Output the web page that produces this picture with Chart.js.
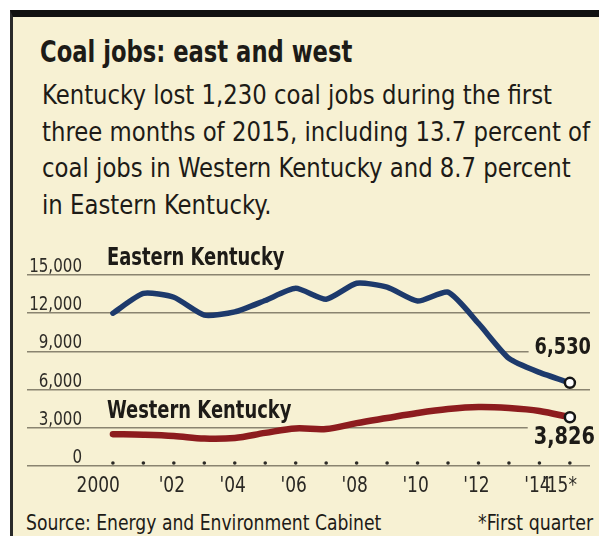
<!DOCTYPE html>
<html>
<head>
<meta charset="utf-8">
<script src="https://cdn.jsdelivr.net/npm/chart.js@4.4.1/dist/chart.umd.min.js"></script>
<style>
  html, body { margin: 0; padding: 0; background: #fff; width: 599px; height: 536px; overflow: hidden; }
  #frame { position: absolute; left: 10px; top: 10px; width: 589px; height: 526px; box-sizing: border-box;
           background: #f7f1d3; border-top: 7px solid #111; border-left: 3px solid #2a2a2a; }
  .txt { position: absolute; white-space: nowrap; color: #1d1b17; transform-origin: 0 0;
         font-family: "DejaVu Sans Condensed", "Liberation Sans", sans-serif; }
  #title { left: 40px; top: 35px; font-size: 30px; line-height: 34px; font-weight: bold; transform: scaleX(0.84); }
  #sub { left: 42px; top: 77px; font-size: 26px; line-height: 36.5px; transform: scaleX(0.975); }
  #source { left: 26px; top: 511px; font-size: 21px; line-height: 24px; transform: scaleX(0.91); }
  #note { right: 6px; top: 511px; font-size: 21px; line-height: 24px; transform-origin: 100% 0; transform: scaleX(0.92); }
  #chart { position: absolute; left: 0; top: 0; }
</style>
</head>
<body>
<div id="frame"></div>
<div class="txt" id="title">Coal jobs: east and west</div>
<div class="txt" id="sub">Kentucky lost 1,230 coal jobs during the first<br>three months of 2015, including 13.7 percent of<br>coal jobs in Western Kentucky and 8.7 percent<br>in Eastern Kentucky.</div>
<div class="txt" id="source">Source: Energy and Environment Cabinet</div>
<div class="txt" id="note">*First quarter</div>
<canvas id="chart" width="599" height="536"></canvas>
<script>
const years = [2000, 2001, 2002, 2003, 2004, 2005, 2006, 2007, 2008, 2009, 2010, 2011, 2012, 2013, 2014, 2015];
const xTickLabels = ['2000', '', "'02", '', "'04", '', "'06", '', "'08", '', "'10", '', "'12", '', "'14", "'15*"];
const eastern = [12000, 13550, 13250, 11850, 12100, 13000, 13950, 13100, 14350, 14050, 12950, 13650, 11200, 8450, 7350, 6530];
const western = [2500, 2450, 2350, 2150, 2200, 2600, 2950, 2900, 3370, 3770, 4160, 4470, 4630, 4550, 4320, 3826];
const yTicks = [0, 3000, 6000, 9000, 12000, 15000];

const FONT = '"DejaVu Sans Condensed", "Liberation Sans", sans-serif';
const INK = '#1d1b17';
const PAPER = '#f7f1d3';

// series name above the line, value next to the end marker
const labelSpots = [
    { nameAt: 15000, nameDy: -10, valDx: 21, valDy: -35, valSize: 23 },
    { nameAt: 3000, nameDy: -10, valDx: 25, valDy: 20, valSize: 25 }
];

// the paper uses a condensed face: squeeze the canvas text horizontally
function narrowText(ctx, txt, x, y, sx, align, baseline) {
    ctx.save();
    ctx.translate(x, y);
    ctx.scale(sx, 1);
    ctx.textAlign = align;
    ctx.textBaseline = baseline;
    ctx.fillText(txt, 0, 0);
    ctx.restore();
}

const annotate = {
    id: 'annotate',
    beforeDatasetsDraw(chart) {
        const { ctx, chartArea, scales: { x, y } } = chart;
        ctx.save();
        // year dots on the base line
        ctx.fillStyle = '#2b2a26';
        years.forEach(yr => {
            ctx.beginPath();
            ctx.arc(x.getPixelForValue(yr), y.getPixelForValue(0) - 3, 1.8, 0, Math.PI * 2);
            ctx.fill();
        });
        // y labels sit on top of their grid lines
        ctx.fillStyle = '#2e2c27';
        ctx.font = '20px ' + FONT;
        y.ticks.forEach(t => {
            narrowText(ctx, t.value.toLocaleString('en-US'), chartArea.left + 55, y.getPixelForValue(t.value) - 3, 0.84, 'right', 'alphabetic');
        });
        // x labels; the full year hangs left of its dot, the footnote star hangs right
        ctx.font = '22px ' + FONT;
        ctx.fillStyle = '#2a2824';
        const sx = 0.86;
        x.ticks.forEach(t => {
            const lbl = xTickLabels[years.indexOf(t.value)];
            if (!lbl) return;
            const px = x.getPixelForValue(t.value);
            const yb = chartArea.bottom + 26;
            if (lbl.length === 4) {
                narrowText(ctx, lbl, px + 7, yb, sx, 'right', 'alphabetic');
            } else {
                const core = lbl.replace('*', '');
                const w = ctx.measureText(core).width * sx;
                narrowText(ctx, lbl, px - w / 2 - 2, yb, sx, 'left', 'alphabetic');
            }
        });
        ctx.restore();
    },
    afterDatasetsDraw(chart) {
        const { ctx, scales: { x, y } } = chart;
        ctx.save();
        chart.data.datasets.forEach((ds, i) => {
            const spot = labelSpots[i];
            ctx.fillStyle = INK;
            ctx.font = 'bold 24px ' + FONT;
            narrowText(ctx, ds.label, x.getPixelForValue(years[0]) - 6, y.getPixelForValue(spot.nameAt) + spot.nameDy, 0.83, 'left', 'alphabetic');

            const series = i === 0 ? eastern : western;
            const last = series.length - 1;
            const pt = chart.getDatasetMeta(i).data[last];
            const txt = series[last].toLocaleString('en-US');
            ctx.font = 'bold ' + spot.valSize + 'px ' + FONT;
            const w = ctx.measureText(txt).width * 0.86;
            const rx = pt.x + spot.valDx;
            const cy = pt.y + spot.valDy;
            ctx.fillStyle = PAPER;
            ctx.fillRect(rx - w - 6, cy - 12, w + 6, 24);
            ctx.fillStyle = INK;
            narrowText(ctx, txt, rx, cy, 0.86, 'right', 'middle');
        });
        ctx.restore();
    }
};

const lastOnly = (r) => (c) => c.dataIndex === years.length - 1 ? r : 0;

new Chart(document.getElementById('chart'), {
    type: 'line',
    data: {
        labels: years,
        datasets: [
            {
                label: 'Eastern Kentucky',
                data: eastern,
                borderColor: '#1d3a6c',
                borderWidth: 5.5,
                tension: 0.2
            },
            {
                label: 'Western Kentucky',
                data: western,
                borderColor: '#8d1c1e',
                borderWidth: 6.5,
                tension: 0.35
            }
        ].map(ds => Object.assign(ds, {
            parsing: false,
            data: ds.data.map((v, i) => ({ x: years[i], y: v })),
            pointRadius: lastOnly(5),
            pointHoverRadius: lastOnly(5),
            pointBackgroundColor: '#fff',
            pointBorderColor: '#151515',
            pointBorderWidth: 2.5,
            borderCapStyle: 'round',
            borderJoinStyle: 'round',
            clip: false
        }))
    },
    options: {
        responsive: false,
        animation: false,
        events: [],
        layout: { autoPadding: false, padding: { left: 27, right: 9, top: 275, bottom: 25 } },
        plugins: { legend: { display: false }, tooltip: { enabled: false } },
        scales: {
            x: {
                type: 'linear',
                min: 1997.18,
                max: 2015.66,
                afterBuildTicks: (s) => { s.ticks = years.map(v => ({ value: v })); },
                afterFit: (s) => { s.height = 45; },
                grid: { display: false },
                border: { display: false },
                ticks: { display: false, autoSkip: false }
            },
            y: {
                min: 0,
                max: 15000,
                afterBuildTicks: (s) => { s.ticks = yTicks.map(v => ({ value: v })); },
                afterFit: (s) => { s.width = 0; },
                grid: { color: '#8a8470', lineWidth: 1.6, drawTicks: false },
                border: { display: false },
                ticks: { display: false }
            }
        }
    },
    plugins: [annotate]
});
</script>
</body>
</html>
